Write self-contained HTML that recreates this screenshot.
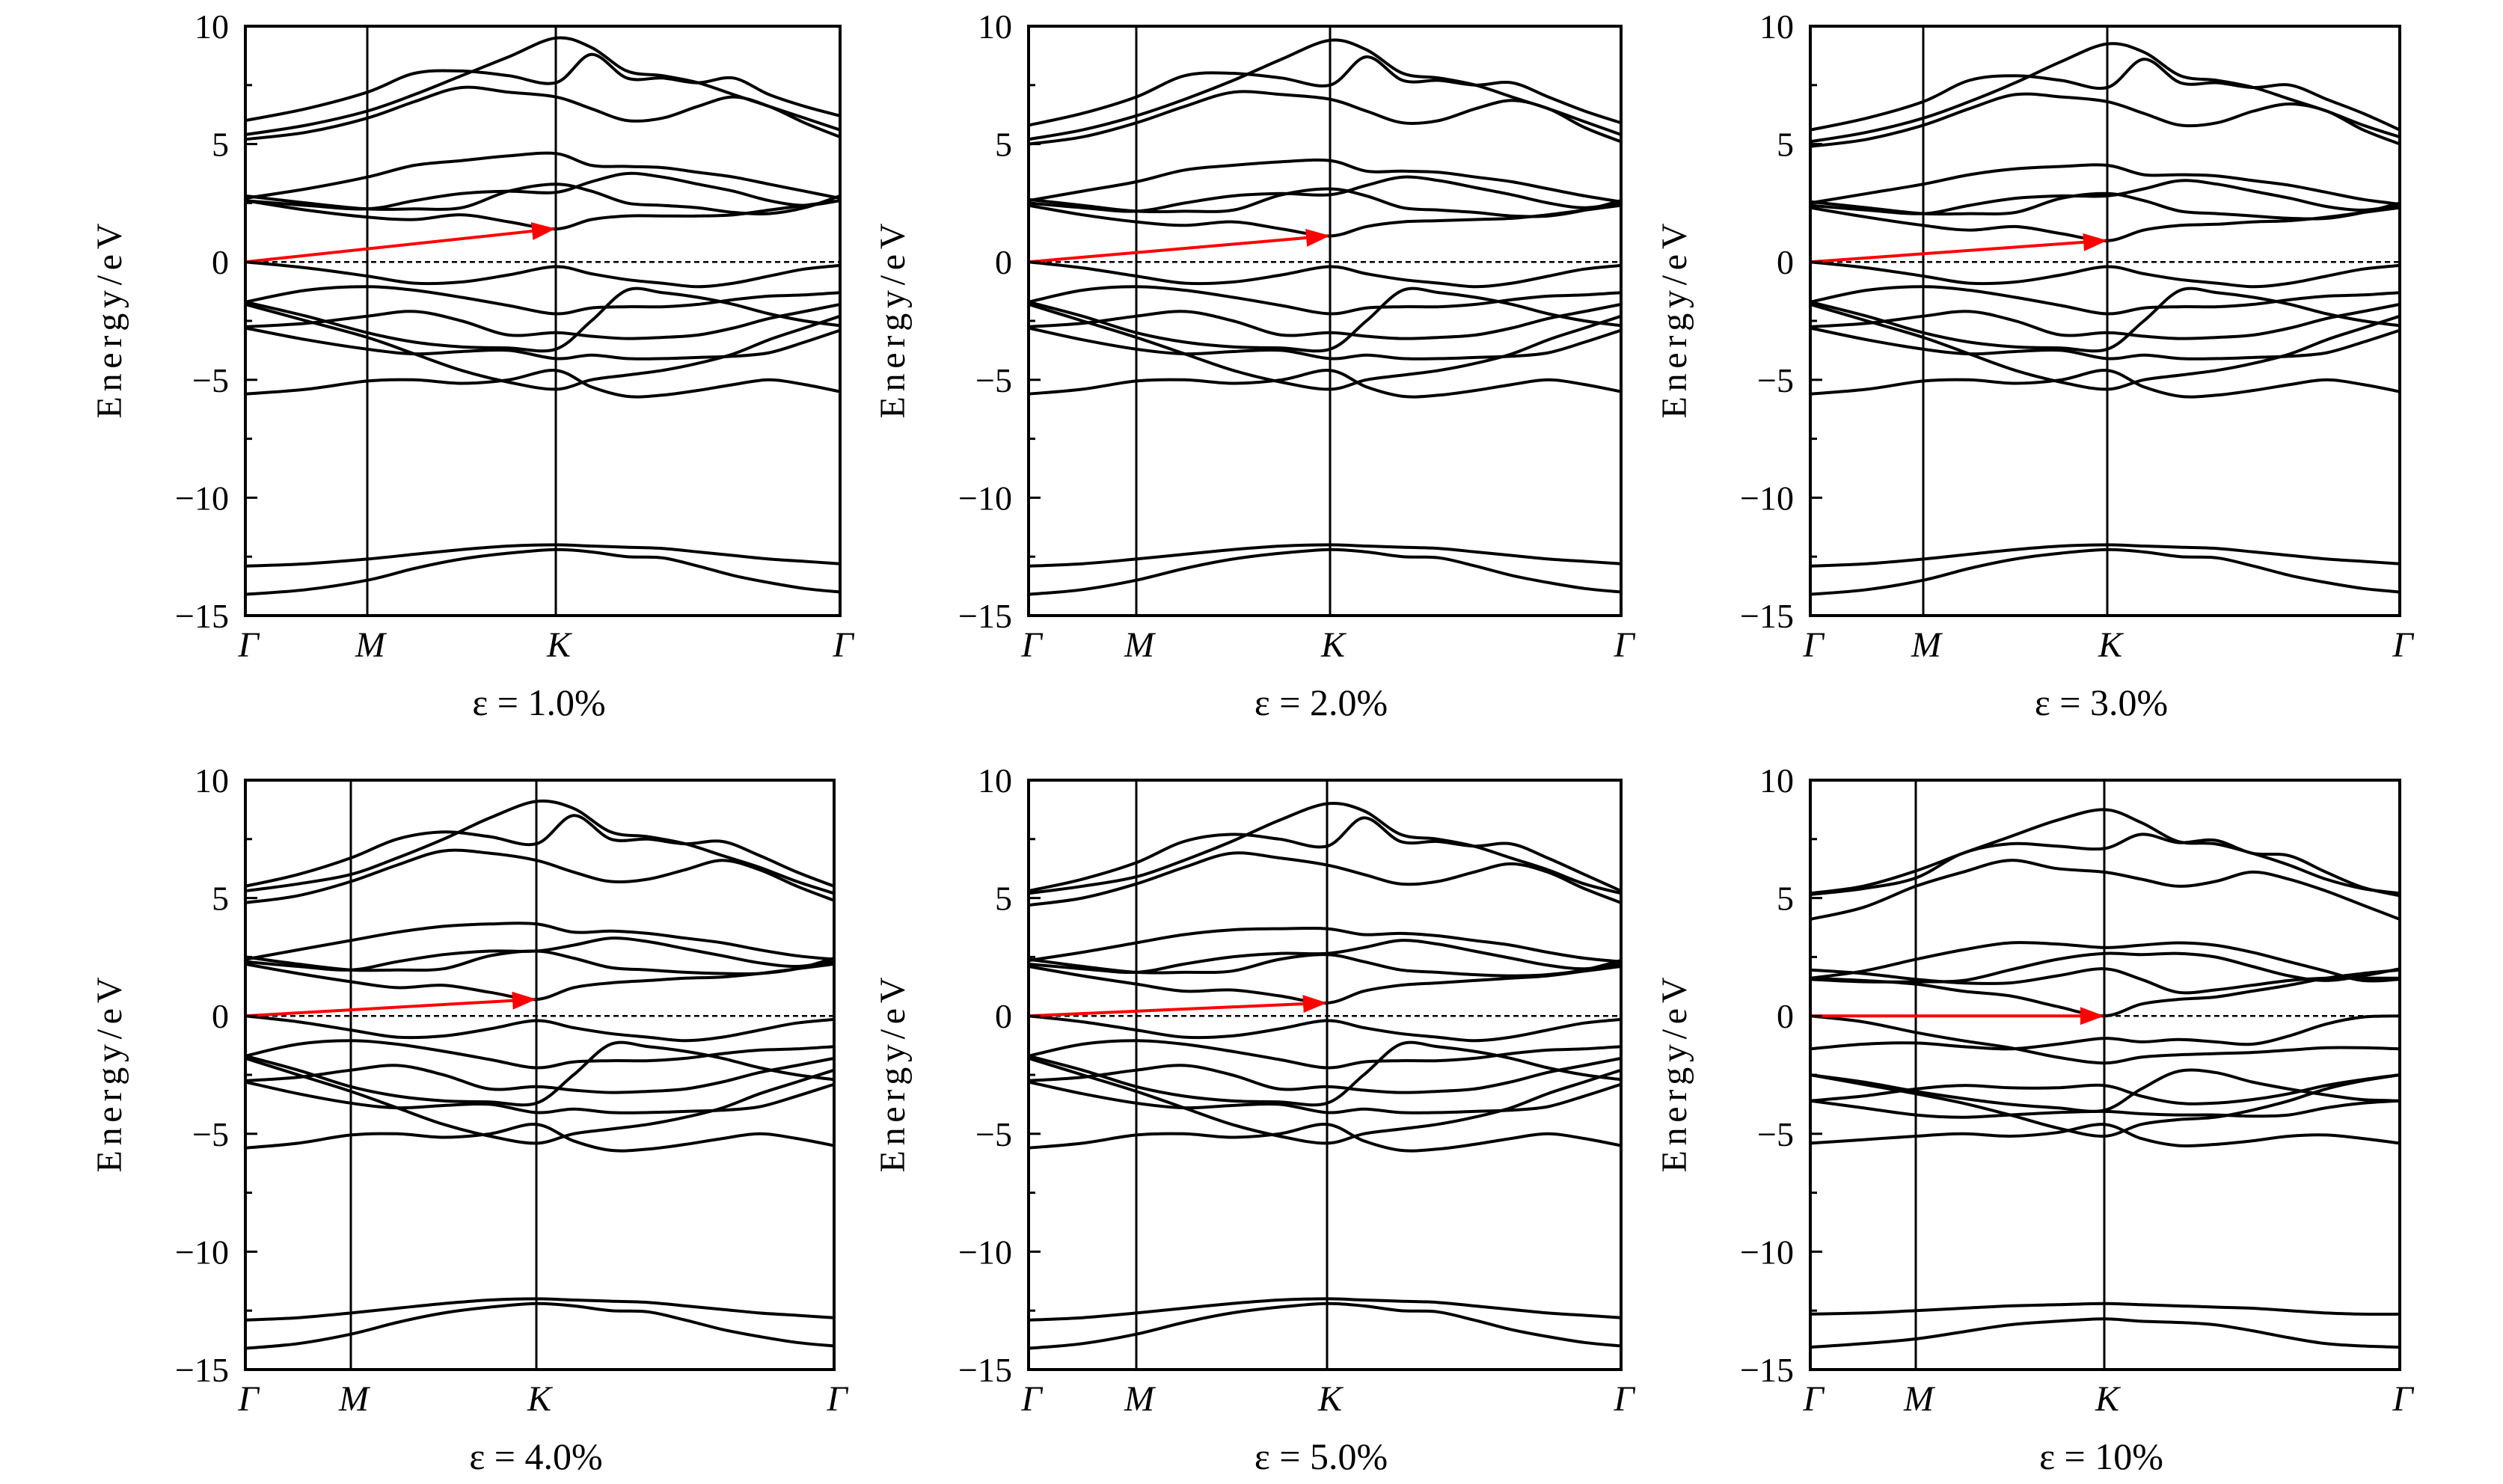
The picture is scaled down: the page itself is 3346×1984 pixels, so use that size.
<!DOCTYPE html>
<html><head><meta charset="utf-8"><title>Band structures under strain</title>
<style>
html,body{margin:0;padding:0;background:#fff;}
svg{display:block;}
text{font-family:"Liberation Serif",serif;fill:#000;}
</style></head>
<body>
<svg id="fig" width="3346" height="1984" viewBox="0 0 3346 1984" xmlns="http://www.w3.org/2000/svg"></svg>
<script>
// ---- data: energies (eV) at 15 k samples: Γ, ½ΓM, M, ¼,½,¾ MK, K, 1/8..7/8 KΓ, Γ
const yTicks = [10, 5, 0, -5, -10, -15];
const yTickLabels = ["10", "5", "0", "\u22125", "\u221210", "\u221215"];
const kLabels = ["\u0393", "M", "K", "\u0393"];
const captions = ["\u03b5 = 1.0%", "\u03b5 = 2.0%", "\u03b5 = 3.0%", "\u03b5 = 4.0%", "\u03b5 = 5.0%", "\u03b5 = 10%"];
const cbmAtK = [1.4, 1.1, 0.9, 0.7, 0.55, 0.0];

const valenceP1to5 = [
 [0,-0.25,-0.6,-0.9,-0.85,-0.55,-0.2,-0.5,-0.75,-0.9,-1.05,-0.9,-0.6,-0.3,-0.15],
 [-1.7,-1.2,-1.05,-1.2,-1.5,-1.85,-2.2,-1.95,-1.9,-1.9,-1.8,-1.6,-1.45,-1.4,-1.3],
 [-1.7,-2.3,-3.0,-3.4,-3.6,-3.65,-3.7,-2.5,-1.2,-1.3,-1.5,-1.8,-2.2,-2.5,-2.7],
 [-2.75,-2.6,-2.3,-2.1,-2.5,-3.1,-3.0,-3.15,-3.25,-3.2,-3.1,-2.8,-2.4,-2.1,-1.8],
 [-2.8,-3.3,-3.7,-3.9,-3.8,-3.75,-4.1,-3.95,-4.1,-4.1,-4.05,-4.0,-3.85,-3.4,-2.9],
 [-1.8,-2.5,-3.2,-3.9,-4.6,-5.1,-5.4,-5.0,-4.8,-4.6,-4.3,-3.9,-3.3,-2.8,-2.3],
 [-5.6,-5.4,-5.05,-5.0,-5.15,-5.0,-4.6,-5.3,-5.7,-5.65,-5.45,-5.2,-5.0,-5.2,-5.5],
 [-12.9,-12.8,-12.6,-12.4,-12.2,-12.05,-12.0,-12.05,-12.1,-12.15,-12.3,-12.45,-12.6,-12.7,-12.8],
 [-14.1,-13.9,-13.5,-13.0,-12.6,-12.35,-12.2,-12.3,-12.5,-12.55,-12.9,-13.3,-13.6,-13.85,-14.0]
];
const conductionP1 = [
 [5.2,5.5,6.1,6.8,7.4,7.2,7.0,6.5,6.0,6.1,6.6,7.0,6.6,5.9,5.3],
 [5.4,5.8,6.4,7.1,7.9,8.7,9.5,9.1,8.1,7.9,7.6,7.1,6.6,6.1,5.6],
 [6.0,6.5,7.2,8.0,8.1,7.9,7.6,8.8,7.8,7.8,7.6,7.8,7.1,6.6,6.2],
 [2.7,3.1,3.6,4.1,4.3,4.5,4.6,4.1,4.05,4.0,3.8,3.6,3.3,3.0,2.7],
 [2.6,2.4,2.25,2.6,2.9,3.0,2.95,3.4,3.75,3.6,3.3,3.0,2.6,2.4,2.6],
 [2.8,2.5,2.25,2.25,2.3,3.0,3.3,3.0,2.5,2.4,2.3,2.1,2.05,2.3,2.8],
 [2.6,2.2,1.9,1.8,2.0,1.7,1.4,1.8,1.95,1.95,1.95,2.0,2.2,2.4,2.6]
];
const conductionP2 = [
 [5.0,5.3,5.9,6.6,7.2,7.1,6.9,6.4,5.9,6.0,6.5,6.85,6.5,5.7,5.1],
 [5.2,5.6,6.2,6.9,7.7,8.6,9.4,9.0,8.0,7.8,7.5,7.0,6.5,5.95,5.4],
 [5.8,6.3,7.0,7.9,8.0,7.8,7.5,8.7,7.7,7.7,7.5,7.6,7.0,6.4,5.9],
 [2.6,3.0,3.4,3.9,4.1,4.25,4.3,3.85,3.85,3.8,3.6,3.4,3.1,2.8,2.55],
 [2.5,2.3,2.15,2.5,2.8,2.9,2.85,3.25,3.6,3.45,3.15,2.85,2.5,2.3,2.5],
 [2.65,2.4,2.15,2.15,2.2,2.85,3.1,2.8,2.3,2.2,2.1,1.95,1.95,2.2,2.6],
 [2.4,2.0,1.7,1.55,1.7,1.4,1.1,1.5,1.7,1.75,1.8,1.85,2.0,2.2,2.4]
];
const conductionP3 = [
 [4.9,5.2,5.8,6.5,7.1,7.0,6.8,6.3,5.8,5.9,6.4,6.7,6.4,5.6,5.0],
 [5.1,5.5,6.1,6.8,7.6,8.5,9.25,8.9,7.9,7.7,7.4,6.9,6.4,5.8,5.3],
 [5.6,6.1,6.8,7.7,7.9,7.7,7.4,8.6,7.6,7.6,7.4,7.5,6.9,6.3,5.6],
 [2.5,2.9,3.3,3.7,3.95,4.05,4.1,3.7,3.7,3.65,3.45,3.25,2.95,2.65,2.45],
 [2.4,2.2,2.05,2.4,2.7,2.8,2.8,3.1,3.45,3.3,3.0,2.7,2.35,2.2,2.4],
 [2.55,2.3,2.05,2.05,2.1,2.7,2.9,2.6,2.15,2.05,1.95,1.85,1.85,2.1,2.5],
 [2.3,1.9,1.55,1.35,1.5,1.2,0.9,1.35,1.55,1.6,1.7,1.75,1.9,2.1,2.3]
];
const conductionP4 = [
 [4.8,5.1,5.7,6.4,7.0,6.9,6.6,6.1,5.7,5.8,6.2,6.6,6.2,5.5,4.9],
 [5.3,5.6,6.0,6.7,7.5,8.4,9.1,8.8,7.8,7.6,7.3,6.8,6.3,5.7,5.2],
 [5.5,6.0,6.7,7.5,7.8,7.6,7.3,8.5,7.5,7.5,7.3,7.4,6.8,6.1,5.5],
 [2.4,2.8,3.2,3.55,3.8,3.9,3.9,3.55,3.6,3.5,3.3,3.1,2.8,2.55,2.4],
 [2.3,2.1,1.95,2.3,2.6,2.75,2.75,3.0,3.3,3.15,2.85,2.55,2.25,2.1,2.3],
 [2.5,2.2,1.95,1.95,2.0,2.55,2.75,2.45,2.05,1.95,1.85,1.8,1.8,2.0,2.45],
 [2.2,1.8,1.45,1.2,1.3,1.0,0.7,1.2,1.4,1.5,1.6,1.65,1.8,2.0,2.2]
];
const conductionP5 = [
 [4.7,5.0,5.6,6.3,6.9,6.7,6.4,6.0,5.6,5.7,6.1,6.45,6.1,5.4,4.8],
 [5.2,5.5,5.9,6.6,7.4,8.3,9.0,8.7,7.7,7.5,7.2,6.7,6.2,5.6,5.2],
 [5.3,5.8,6.5,7.4,7.7,7.5,7.2,8.4,7.4,7.4,7.2,7.3,6.7,6.0,5.3],
 [2.35,2.7,3.1,3.45,3.65,3.7,3.7,3.45,3.5,3.4,3.2,3.0,2.7,2.45,2.3],
 [2.2,2.0,1.85,2.2,2.5,2.65,2.65,2.9,3.2,3.05,2.75,2.45,2.15,2.0,2.2],
 [2.4,2.1,1.85,1.85,1.9,2.4,2.6,2.3,1.95,1.85,1.75,1.7,1.75,1.95,2.35],
 [2.1,1.7,1.35,1.05,1.1,0.85,0.55,1.05,1.3,1.4,1.5,1.6,1.7,1.9,2.1]
];
const bandsP6 = [
 [5.2,5.5,6.15,6.9,7.6,8.3,8.75,8.2,7.4,7.3,6.9,6.4,5.8,5.4,5.2],
 [5.15,5.4,5.85,6.9,7.3,7.2,7.1,7.7,7.35,7.45,6.9,6.8,6.1,5.45,5.1],
 [4.1,4.6,5.5,6.1,6.6,6.25,6.1,5.8,5.5,5.7,6.1,5.8,5.3,4.7,4.1],
 [1.6,1.9,2.4,2.8,3.1,3.05,2.9,3.0,3.1,3.0,2.7,2.3,1.9,1.5,1.55],
 [1.55,1.45,1.45,1.5,1.95,2.4,2.65,2.6,2.65,2.5,2.1,1.7,1.5,1.7,2.0],
 [1.95,1.8,1.55,1.4,1.4,1.7,2.0,1.55,1.0,1.1,1.3,1.5,1.6,1.6,1.6],
 [1.6,1.5,1.35,1.05,0.85,0.4,0.0,0.5,0.7,0.8,1.05,1.3,1.6,1.8,1.95],
 [0.0,-0.25,-0.7,-1.05,-1.35,-1.75,-2.0,-1.75,-1.65,-1.6,-1.55,-1.45,-1.35,-1.35,-1.4],
 [-1.4,-1.2,-1.15,-1.3,-1.4,-1.2,-0.95,-1.1,-1.0,-1.1,-1.2,-0.85,-0.35,-0.05,0.0],
 [-2.5,-2.8,-3.2,-3.5,-3.75,-3.9,-4.0,-3.1,-2.35,-2.4,-2.8,-3.1,-3.35,-3.55,-3.6],
 [-3.6,-3.4,-3.1,-2.95,-3.05,-3.05,-2.95,-3.4,-3.7,-3.7,-3.55,-3.3,-2.95,-2.7,-2.5],
 [-2.5,-2.9,-3.3,-3.7,-4.2,-4.75,-5.1,-4.6,-4.4,-4.3,-4.0,-3.6,-3.1,-2.75,-2.5],
 [-3.6,-3.9,-4.2,-4.3,-4.2,-4.1,-4.05,-4.15,-4.2,-4.2,-4.25,-4.2,-3.9,-3.7,-3.6],
 [-5.4,-5.25,-5.1,-5.0,-5.1,-4.95,-4.6,-5.2,-5.5,-5.45,-5.3,-5.1,-5.05,-5.2,-5.4],
 [-12.65,-12.6,-12.5,-12.4,-12.3,-12.25,-12.2,-12.25,-12.3,-12.35,-12.4,-12.5,-12.6,-12.65,-12.65],
 [-14.05,-13.9,-13.7,-13.4,-13.1,-12.95,-12.85,-12.95,-13.0,-13.1,-13.35,-13.65,-13.9,-14.0,-14.05]
];
const panelBands = [
 conductionP1.concat(valenceP1to5), conductionP2.concat(valenceP1to5),
 conductionP3.concat(valenceP1to5), conductionP4.concat(valenceP1to5),
 conductionP5.concat(valenceP1to5), bandsP6
];

// ---- layout (pixels)
const layout = [
 {x0:328,x1:1123,y0:35,y1:823,m:491,k:743},
 {x0:1375,x1:2167,y0:35,y1:823,m:1519,k:1778},
 {x0:2420,x1:3208,y0:35,y1:823,m:2571,k:2817},
 {x0:328,x1:1115,y0:1043,y1:1831,m:469,k:717},
 {x0:1375,x1:2167,y0:1043,y1:1831,m:1519,k:1774},
 {x0:2420,x1:3208,y0:1043,y1:1831,m:2561,k:2813}
];
const EMAX = 10, EMIN = -15;
const NS = "http://www.w3.org/2000/svg";
const svg = document.getElementById('fig');
function mk(tag, attrs, parent) {
  const e = document.createElementNS(NS, tag);
  for (const a in attrs) e.setAttribute(a, attrs[a]);
  (parent || svg).appendChild(e);
  return e;
}
function kx(L, i) {
  if (i <= 2) return L.x0 + (L.m - L.x0) * i / 2;
  if (i <= 6) return L.m + (L.k - L.m) * (i - 2) / 4;
  return L.k + (L.x1 - L.k) * (i - 6) / 8;
}
function ey(L, e) { return L.y0 + (EMAX - e) / (EMAX - EMIN) * (L.y1 - L.y0); }
function pathFor(pts) {
  let d = "M" + pts[0][0].toFixed(1) + "," + pts[0][1].toFixed(1);
  for (let i = 0; i < pts.length - 1; i++) {
    const p0 = pts[Math.max(0, i - 1)], p1 = pts[i], p2 = pts[i + 1], p3 = pts[Math.min(pts.length - 1, i + 2)];
    const c1x = p1[0] + (p2[0] - p0[0]) / 6, c1y = p1[1] + (p2[1] - p0[1]) / 6;
    const c2x = p2[0] - (p3[0] - p1[0]) / 6, c2y = p2[1] - (p3[1] - p1[1]) / 6;
    d += " C" + c1x.toFixed(1) + "," + c1y.toFixed(1) + " " + c2x.toFixed(1) + "," + c2y.toFixed(1) + " " + p2[0].toFixed(1) + "," + p2[1].toFixed(1);
  }
  return d;
}
const defs = mk('defs', {});
const mrk = mk('marker', {id:'ah', markerWidth:'8', markerHeight:'6', refX:'7', refY:'3', orient:'auto', markerUnits:'strokeWidth'}, defs);
mk('path', {d:'M0,0 L8,3 L0,6 Z', fill:'#ff0000'}, mrk);

layout.forEach((L, p) => {
  const g = mk('g', {});
  
  
  // bands
  const bands = panelBands[p];
  bands.forEach((b, j) => {
    const pts = b.map((e, i) => [kx(L, i), ey(L, e)]);
    const path = mk('path', {d: pathFor(pts), fill:'none', stroke:'#000', 'stroke-width':'4'}, g);
    
    
  });
  // fermi level
  const fl = mk('line', {x1:L.x0, x2:L.x1, y1:ey(L,0), y2:ey(L,0), stroke:'#000', 'stroke-width':'2.5', 'stroke-dasharray':'7,5'}, g);
  
  
  // symmetry lines
  [L.m, L.k].forEach((x, j) => {
    const vl = mk('line', {x1:x, x2:x, y1:L.y0, y2:L.y1, stroke:'#000', 'stroke-width':'3'}, g);
    
    
  });
  // arrow
  const ar = mk('line', {x1:L.x0, y1:ey(L,0), x2:L.k - 4, y2:ey(L,cbmAtK[p]), stroke:'#ff0000', 'stroke-width':'4', 'marker-end':'url(#ah)'}, g);
  
  
  // frame
  const fr = mk('rect', {x:L.x0, y:L.y0, width:L.x1 - L.x0, height:L.y1 - L.y0, fill:'none', stroke:'#000', 'stroke-width':'4'}, g);
  
  
  // ticks
  for (let e = EMIN; e <= EMAX; e += 2.5) {
    const major = (e % 5 === 0);
    const t = mk('line', {x1:L.x0, x2:L.x0 + (major ? 16 : 9), y1:ey(L,e), y2:ey(L,e), stroke:'#000', 'stroke-width':'3'}, g);
    
    
  }
  yTicks.forEach((v, i) => {
    const t = mk('text', {x:L.x0 - 22, y:ey(L,v) + 16, 'font-size':'46', 'text-anchor':'end'}, g);
    t.textContent = yTickLabels[i];
    
    
  });
  [L.x0, L.m, L.k, L.x1].forEach((x, i) => {
    const t = mk('text', {x:x + 4, y:L.y1 + 55, 'font-size':'48', 'font-style':'italic', 'text-anchor':'middle'}, g);
    t.textContent = kLabels[i];
    
    
  });
  const yl = mk('text', {x:0, y:0, 'font-size':'48', 'text-anchor':'middle', textLength:'261', lengthAdjust:'spacing',
    transform:'translate(' + (L.x0 - 166) + ',' + ((L.y0 + L.y1) / 2) + ') rotate(-90)'}, g);
  yl.textContent = 'Energy/eV';
  
  
  const cap = mk('text', {x:(L.x0 + L.x1) / 2 - 5, y:L.y1 + 133, 'font-size':'50', 'text-anchor':'middle'}, g);
  cap.textContent = captions[p];
  
  
});
</script>
</body></html>
